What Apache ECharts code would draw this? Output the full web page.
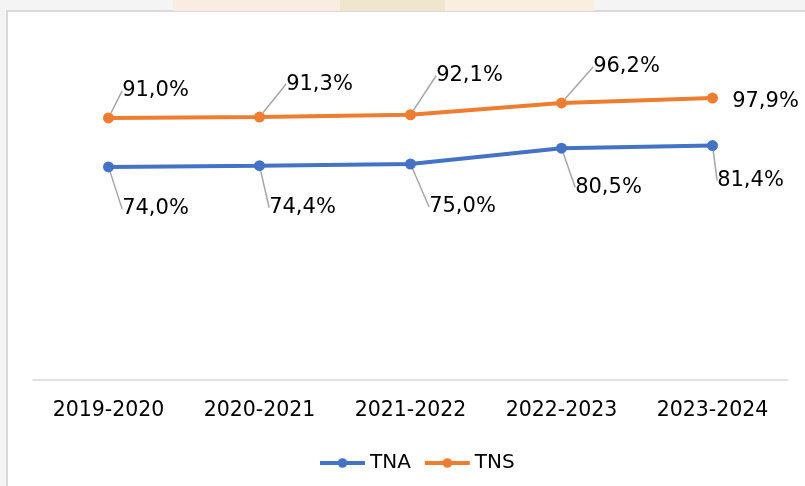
<!DOCTYPE html>
<html>
<head>
<meta charset="utf-8">
<script src="https://cdn.jsdelivr.net/npm/echarts@6/dist/echarts.min.js"></script>
<style>
  html, body { margin: 0; padding: 0; background: #f4f4f4; }
  #chart { width: 805px; height: 486px; }
</style>
</head>
<body>
<div id="chart"></div>
<script>
const CATEGORIES = ['2019-2020', '2020-2021', '2021-2022', '2022-2023', '2023-2024'];
const TNA = [74.0, 74.4, 75.0, 80.5, 81.4];
const TNS = [91.0, 91.3, 92.1, 96.2, 97.9];

// label offsets from each point (label centre), px
const TNA_LABEL_OFFSETS = [[47, 42], [43, 42], [52, 43], [47, 39], [38, 35]];
const TNS_LABEL_OFFSETS = [[47, -27], [60, -33], [59, -39], [65, -36], [53, 3]];

const BLUE = '#4472c4';
const ORANGE = '#ed7d31';
const FONT = 'DejaVu Sans';

const fmt = v => v.toFixed(1).replace('.', ',') + '%';

const chart = echarts.init(document.getElementById('chart'));

function makeSeries(name, values, offsets, color) {
  return {
    name,
    type: 'line',
    data: values.map((v, i) => ({
      value: v,
      labelLine: { show: !(name === 'TNS' && i === values.length - 1) },
    })),
    symbol: 'circle',
    symbolSize: 11,
    lineStyle: { width: 4, color },
    itemStyle: { color },
    label: {
      show: true,
      formatter: p => fmt(p.value),
      color: '#000',
      fontFamily: FONT,
      fontSize: 21,
    },
    labelLine: { show: true, lineStyle: { color: '#a6a6a6', width: 1.5 } },
    labelLayout: p => {
      const [dx, dy] = offsets[p.dataIndex];
      return {
        x: p.rect.x + p.rect.width / 2 + dx,
        y: p.rect.y + p.rect.height / 2 + dy,
        align: 'center',
        verticalAlign: 'middle',
      };
    },
  };
}

chart.setOption({
  backgroundColor: '#f4f4f4',
  animation: false,
  graphic: [
    { type: 'rect', shape: { x: 173, y: 0, width: 167, height: 11 }, style: { fill: '#f8ede0' }, silent: true },
    { type: 'rect', shape: { x: 340, y: 0, width: 105, height: 11 }, style: { fill: '#efe6cd' }, silent: true },
    { type: 'rect', shape: { x: 445, y: 0, width: 149, height: 11 }, style: { fill: '#f8efe1' }, silent: true },
    { type: 'rect', z: -10, shape: { x: 7, y: 11, width: 810, height: 490 }, style: { fill: '#fff', stroke: '#d9d9d9', lineWidth: 2 }, silent: true },
  ],
  grid: { left: 33, right: 17, top: 92, bottom: 106 },
  xAxis: {
    type: 'category',
    data: CATEGORIES,
    boundaryGap: true,
    axisLine: { lineStyle: { color: '#d9d9d9', width: 1.5 } },
    axisTick: { show: false },
    axisLabel: { color: '#000', fontFamily: FONT, fontSize: 20.5, margin: 20 },
  },
  yAxis: {
    type: 'value',
    min: 0,
    max: 100,
    show: false,
    splitLine: { show: false },
  },
  legend: {
    left: 313,
    top: 448,
    itemWidth: 45,
    itemHeight: 12,
    itemGap: 12,
    lineStyle: { width: 4 },
    textStyle: { color: '#000', fontFamily: FONT, fontSize: 20 },
    data: ['TNA', 'TNS'],
  },
  series: [
    makeSeries('TNA', TNA, TNA_LABEL_OFFSETS, BLUE),
    makeSeries('TNS', TNS, TNS_LABEL_OFFSETS, ORANGE),
  ],
});
</script>
</body>
</html>
